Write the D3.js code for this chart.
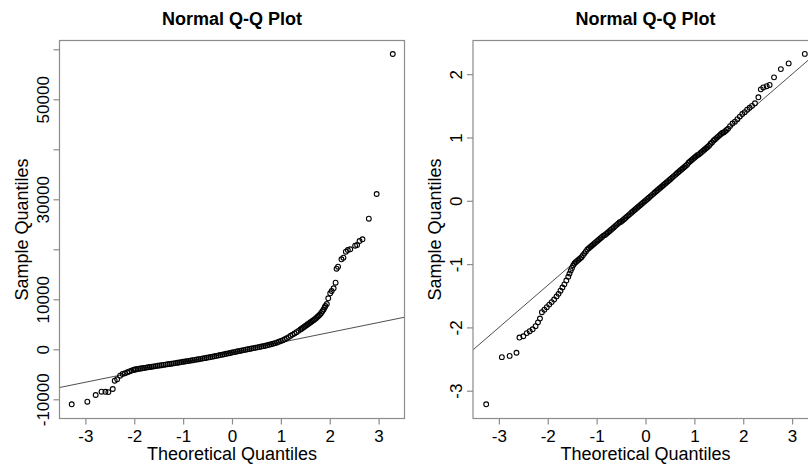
<!DOCTYPE html>
<html>
<head>
<meta charset="utf-8">
<script src="https://cdn.jsdelivr.net/npm/d3@7"></script>
<style>
  html, body { margin: 0; padding: 0; background: #ffffff; }
  svg { display: block; font-family: "Liberation Sans", Arial, sans-serif; }
</style>
</head>
<body>
<svg id="chart" width="808" height="465"></svg>
<script>
// ---- Raw amounts: [theoretical quantile, sample quantile] ----
const rawLowerTail = [
  [-3.28,-11000],[-2.96,-10480],[-2.79,-9140],[-2.67,-8480],[-2.59,-8500],[-2.53,-8560],
  [-2.44,-7940],[-2.40,-6280],[-2.35,-6000],[-2.29,-5280],[-2.24,-4940],[-2.19,-4800],
  [-2.14,-4600],[-2.10,-4420],[-2.06,-4260],[-2.02,-4120],[-1.99,-4040]
];
const rawBody = [
  [-1.96,-3980],[-1.92,-3910],[-1.88,-3850],[-1.84,-3780],[-1.80,-3720],[-1.76,-3660],
  [-1.72,-3600],[-1.68,-3540],[-1.64,-3480],[-1.60,-3420],[-1.56,-3360],[-1.52,-3300],
  [-1.48,-3240],[-1.44,-3180],[-1.40,-3120],[-1.36,-3060],[-1.32,-3000],[-1.28,-2940],
  [-1.24,-2880],[-1.20,-2820],[-1.16,-2760],[-1.12,-2690],[-1.08,-2630],[-1.04,-2560],
  [-1.00,-2500],[-0.96,-2440],[-0.92,-2370],[-0.88,-2310],[-0.84,-2240],[-0.80,-2180],
  [-0.76,-2110],[-0.72,-2040],[-0.68,-1980],[-0.64,-1910],[-0.60,-1840],[-0.56,-1770],
  [-0.52,-1700],[-0.48,-1620],[-0.44,-1550],[-0.40,-1470],[-0.36,-1390],[-0.32,-1310],
  [-0.28,-1230],[-0.24,-1150],[-0.20,-1070],[-0.16,-990],[-0.12,-900],[-0.08,-820],
  [-0.04,-740],[0.00,-650],[0.04,-570],[0.08,-480],[0.12,-400],[0.16,-320],
  [0.20,-240],[0.24,-160],[0.28,-80],[0.32,0],[0.36,80],[0.40,160],
  [0.44,240],[0.48,310],[0.52,390],[0.56,470],[0.60,550],[0.64,630],
  [0.68,720],[0.72,800],[0.76,900],[0.80,1000],[0.84,1110],[0.88,1230],
  [0.92,1360],[0.96,1500],[1.00,1650],[1.04,1820],[1.08,2000],[1.12,2200],
  [1.16,2440],[1.20,2700],[1.24,2940],[1.28,3180],[1.32,3430],[1.36,3690],
  [1.40,3950],[1.425,4120],[1.45,4300],[1.475,4470],[1.50,4650],[1.525,4820],
  [1.55,5000],[1.575,5170],[1.60,5350],[1.625,5520],[1.65,5700],[1.675,5870],
  [1.70,6050],[1.725,6270],[1.75,6500],[1.775,6720],[1.80,6950],[1.825,7250],
  [1.85,7600],[1.875,7950]
];
const rawUpperTail = [
  [1.895,8350],[1.91,8660],[1.94,9060],[1.97,10200],[2.01,11200],[2.04,11660],
  [2.08,12200],[2.12,13320],[2.14,16120],[2.17,16520],[2.24,18000],[2.28,18320],
  [2.33,19520],[2.37,19860],[2.42,20000],[2.52,20720],[2.56,20860],[2.61,21660],
  [2.67,22000],[2.80,26120],[2.96,31060],[3.29,59060]
];
const rawRefLine = { intercept: -616, slope: 1992 };
const rawYTicks = [-10000, 0, 10000, 20000, 30000, 40000, 50000, 60000];
const rawYLabels = [-10000, 0, 10000, 30000, 50000];

// ---- Transformed amounts: [theoretical quantile, sample quantile] ----
const tfLowerTail = [
  [-3.26,-3.215],[-2.94,-2.47],[-2.78,-2.45],[-2.64,-2.40],[-2.58,-2.16],[-2.50,-2.14],
  [-2.43,-2.09],[-2.37,-2.06],[-2.31,-2.03],[-2.25,-1.98],[-2.20,-1.92],[-2.16,-1.86],
  [-2.12,-1.76],[-2.07,-1.72],[-2.02,-1.68],[-1.97,-1.64],[-1.92,-1.60],[-1.87,-1.56],
  [-1.82,-1.51],[-1.78,-1.47],[-1.74,-1.42],[-1.70,-1.37],[-1.66,-1.32],[-1.62,-1.26]
];
const tfBody = [
  [-1.58,-1.20],[-1.555,-1.15],[-1.53,-1.10],[-1.505,-1.06],[-1.48,-1.02],[-1.455,-0.99],
  [-1.43,-0.97],[-1.40,-0.95],[-1.37,-0.93],[-1.34,-0.91],[-1.31,-0.89],[-1.28,-0.86],
  [-1.25,-0.83],[-1.22,-0.80],[-1.19,-0.77],[-1.16,-0.75],[-1.13,-0.73],[-1.10,-0.71],
  [-1.07,-0.69],[-1.04,-0.67],[-1.01,-0.65],[-0.98,-0.63],[-0.95,-0.61],[-0.92,-0.59],
  [-0.89,-0.57],[-0.86,-0.55],[-0.83,-0.54],[-0.80,-0.52],[-0.77,-0.50],[-0.74,-0.48],
  [-0.71,-0.46],[-0.68,-0.44],[-0.65,-0.42],[-0.62,-0.40],[-0.59,-0.38],[-0.56,-0.36],
  [-0.53,-0.34],[-0.50,-0.33],[-0.47,-0.31],[-0.44,-0.29],[-0.41,-0.27],[-0.38,-0.25],
  [-0.35,-0.23],[-0.32,-0.21],[-0.29,-0.19],[-0.26,-0.17],[-0.23,-0.15],[-0.20,-0.13],
  [-0.17,-0.11],[-0.14,-0.09],[-0.11,-0.07],[-0.08,-0.05],[-0.05,-0.03],[-0.02,-0.01],
  [0.01,0.01],[0.04,0.03],[0.07,0.05],[0.10,0.07],[0.13,0.09],[0.16,0.11],
  [0.19,0.13],[0.22,0.15],[0.25,0.17],[0.28,0.19],[0.31,0.21],[0.34,0.23],
  [0.37,0.25],[0.40,0.27],[0.43,0.29],[0.46,0.31],[0.49,0.33],[0.52,0.35],
  [0.55,0.37],[0.58,0.39],[0.61,0.41],[0.64,0.43],[0.67,0.45],[0.70,0.47],
  [0.73,0.49],[0.76,0.51],[0.79,0.53],[0.82,0.55],[0.85,0.57],[0.88,0.60],
  [0.91,0.62],[0.94,0.64],[0.97,0.66],[1.00,0.68],[1.03,0.70],[1.06,0.72],
  [1.09,0.73],[1.12,0.75],[1.15,0.77],[1.18,0.79],[1.21,0.81],[1.24,0.83],
  [1.27,0.85],[1.30,0.87],[1.33,0.90],[1.36,0.92],[1.39,0.95],[1.42,0.97],
  [1.45,0.99],[1.48,1.01],[1.51,1.03],[1.54,1.05],[1.57,1.07],[1.60,1.08],
  [1.63,1.10],[1.66,1.12],[1.69,1.14]
];
const tfUpperTail = [
  [1.73,1.18],[1.78,1.22],[1.83,1.25],[1.88,1.29],[1.93,1.33],[1.98,1.37],
  [2.03,1.40],[2.08,1.44],[2.13,1.47],[2.18,1.50],[2.24,1.54],
  [2.31,1.635],[2.36,1.76],[2.41,1.79],[2.48,1.81],[2.54,1.83],[2.63,1.95],
  [2.77,2.08],[2.93,2.17],[3.26,2.32]
];
const tfRefLine = { intercept: 0.0, slope: 0.667 };
const tfYTicks = [-3, -2, -1, 0, 1, 2];
const tfYLabels = [-3, -2, -1, 0, 1, 2];

const theoTicks = [-3, -2, -1, 0, 1, 2, 3];
const plotTitle = "Normal Q-Q Plot";
const xTitle = "Theoretical Quantiles";
const yTitle = "Sample Quantiles";

// ---- Layout ----
const svg = d3.select("#chart");
const boxTop = 40.5, boxBottom = 418.5, boxWidth = 345;
const xDomain = [-3.53, 3.53];
const tickFont = 17, titleFont = 18;

const panels = [
  { left: 59.5, yDomain: [-13840, 61760],
    points: rawLowerTail.concat(rawBody, rawUpperTail),
    ref: rawRefLine, yTicks: rawYTicks, yLabels: rawYLabels },
  { left: 473, yDomain: [-3.439, 2.532],
    points: tfLowerTail.concat(tfBody, tfUpperTail),
    ref: tfRefLine, yTicks: tfYTicks, yLabels: tfYLabels }
];

panels.forEach((p, i) => {
  const x = d3.scaleLinear().domain(xDomain).range([p.left, p.left + boxWidth]);
  const y = d3.scaleLinear().domain(p.yDomain).range([boxBottom, boxTop]);
  const g = svg.append("g").attr("class", "panel-" + i);
  const cx = p.left + boxWidth / 2;

  // main title
  g.append("text")
    .attr("x", cx).attr("y", 25)
    .attr("text-anchor", "middle")
    .attr("font-size", titleFont).attr("font-weight", "bold")
    .attr("fill", "#000")
    .text(plotTitle);

  // clip region for the reference line
  svg.append("clipPath").attr("id", "clip" + i)
    .append("rect")
    .attr("x", p.left).attr("y", boxTop)
    .attr("width", boxWidth).attr("height", boxBottom - boxTop);

  // reference line through the quartiles
  const [x0, x1] = xDomain;
  g.append("line")
    .attr("clip-path", "url(#clip" + i + ")")
    .attr("x1", x(x0)).attr("y1", y(p.ref.intercept + p.ref.slope * x0))
    .attr("x2", x(x1)).attr("y2", y(p.ref.intercept + p.ref.slope * x1))
    .attr("stroke", "#222").attr("stroke-width", 0.8);

  // sample points as open circles
  g.append("g").selectAll("circle")
    .data(p.points)
    .join("circle")
    .attr("cx", d => x(d[0]))
    .attr("cy", d => y(d[1]))
    .attr("r", 2.4)
    .attr("fill", "none")
    .attr("stroke", "#000")
    .attr("stroke-width", 1.1);

  // frame
  g.append("rect")
    .attr("x", p.left).attr("y", boxTop)
    .attr("width", boxWidth).attr("height", boxBottom - boxTop)
    .attr("fill", "none").attr("stroke", "#8c8c8c").attr("stroke-width", 1.2);

  // x axis
  const xAxis = g.append("g")
    .attr("transform", `translate(0,${boxBottom})`)
    .call(d3.axisBottom(x).tickValues(theoTicks).tickSize(6).tickFormat(d => String(d)));
  xAxis.select(".domain").remove();
  xAxis.selectAll(".tick line").attr("stroke", "#8c8c8c").attr("stroke-width", 1.2);
  xAxis.selectAll(".tick text")
    .attr("y", 23).attr("dy", null)
    .attr("font-size", tickFont).attr("fill", "#000")
    .attr("font-family", "Liberation Sans, Arial, sans-serif");

  // y axis with rotated labels
  const yAxis = g.append("g")
    .attr("transform", `translate(${p.left},0)`)
    .call(d3.axisLeft(y).tickValues(p.yTicks).tickSize(6)
      .tickFormat(d => p.yLabels.includes(d) ? String(d) : ""));
  yAxis.select(".domain").remove();
  yAxis.selectAll(".tick line").attr("stroke", "#8c8c8c").attr("stroke-width", 1.2);
  yAxis.selectAll(".tick text")
    .attr("x", null).attr("dy", null)
    .attr("text-anchor", "middle")
    .attr("transform", "translate(-11,0) rotate(-90)")
    .attr("font-size", tickFont).attr("fill", "#000")
    .attr("font-family", "Liberation Sans, Arial, sans-serif");

  // axis titles
  g.append("text")
    .attr("x", cx).attr("y", 460)
    .attr("text-anchor", "middle")
    .attr("font-size", titleFont).attr("fill", "#000")
    .text(xTitle);
  g.append("text")
    .attr("transform", `translate(${p.left - 32},${(boxTop + boxBottom) / 2}) rotate(-90)`)
    .attr("text-anchor", "middle")
    .attr("font-size", titleFont).attr("fill", "#000")
    .text(yTitle);
});
</script>
</body>
</html>
